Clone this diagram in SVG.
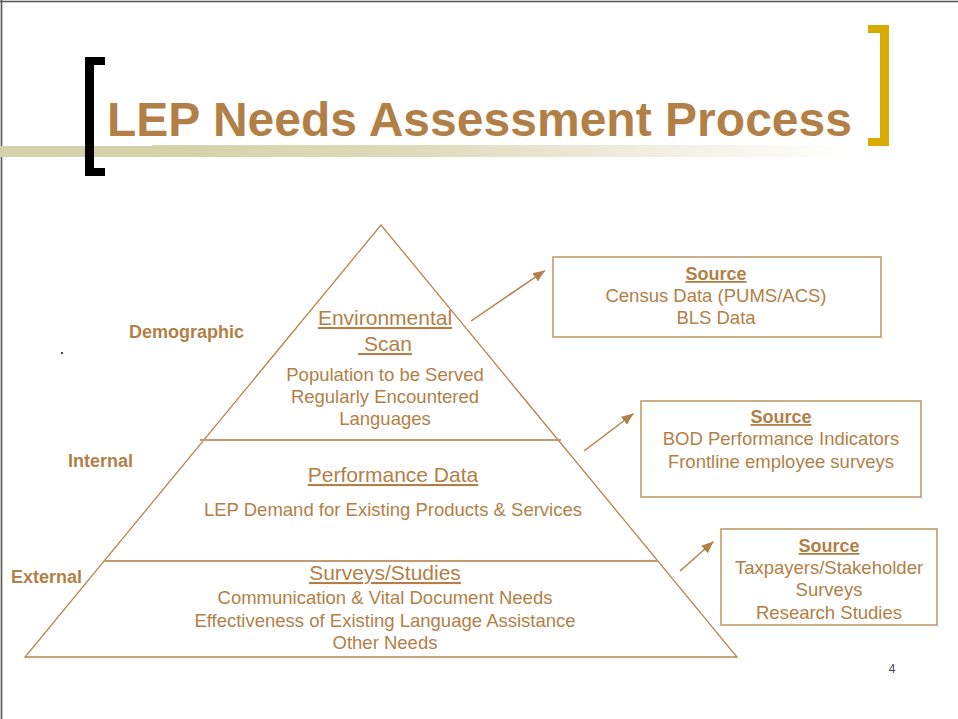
<svg xmlns="http://www.w3.org/2000/svg" width="958" height="719" viewBox="0 0 958 719">
<defs>
<linearGradient id="bar" x1="0" y1="0" x2="1" y2="0">
<stop offset="0" stop-color="#D5D2A9"/>
<stop offset="0.35" stop-color="#DEDBBC"/>
<stop offset="0.92" stop-color="#FFFFFF"/>
</linearGradient>
<marker id="ah" viewBox="0 0 12 10" refX="12" refY="5" markerWidth="12" markerHeight="10" markerUnits="userSpaceOnUse" orient="auto">
<path d="M0,0 L12,5 L0,10 Z" fill="#B27F47"/>
</marker>
<style>
text{font-family:"Liberation Sans",Arial,sans-serif;fill:#B27F47;}
.t{font-size:48px;font-weight:bold;}
.lab{font-size:18px;font-weight:bold;}
.hd{font-size:21px;text-decoration:underline;text-anchor:middle;}
.bd{font-size:18.5px;text-anchor:middle;}
.src{font-size:18px;font-weight:bold;text-decoration:underline;text-anchor:middle;}
.bx{fill:none;stroke:#C49A6C;stroke-width:1.6;}
.pl{fill:none;stroke:#B5854F;stroke-width:1.3;}
.hl{stroke:#C49A6C;stroke-width:1.8;}
.ar{stroke:#B27F47;stroke-width:1.5;fill:none;}
</style>
</defs>
<rect width="958" height="719" fill="#FFFFFF"/>
<line x1="0" y1="1.5" x2="958" y2="1.5" stroke="#555" stroke-width="1.6"/>
<line x1="1.5" y1="0" x2="1.5" y2="719" stroke="#555" stroke-width="1.6"/>

<g id="title">
<rect x="0" y="146" width="153" height="11" fill="#D5D2A9"/>
<rect x="152" y="145" width="760" height="12" fill="url(#bar)"/>
<path d="M85,57 H105 V65 H94 V168 H105 V176 H85 Z" fill="#000"/>
<path d="M868,25 H889 V146 H868 V138 H880 V33 H868 Z" fill="#D9AA00"/>
<text class="t" x="107" y="136" textLength="745">LEP Needs Assessment Process</text>
</g>

<g id="pyramid">
<path class="pl" d="M381,225 L25,657 L737,657 Z"/>
<line class="hl" x1="200" y1="440" x2="561" y2="440"/>
<line class="hl" x1="104" y1="561" x2="658" y2="561"/>
</g>

<g id="tier-environmental">
<text class="hd" x="385" y="325">Environmental</text>
<text class="hd" x="385" y="351" xml:space="preserve"> Scan</text>
<text class="bd" x="385" y="381">Population to be Served</text>
<text class="bd" x="385" y="403">Regularly Encountered</text>
<text class="bd" x="385" y="425">Languages</text>
</g>

<g id="tier-performance">
<text class="hd" x="393" y="482">Performance Data</text>
<text class="bd" x="393" y="516">LEP Demand for Existing Products &amp; Services</text>
</g>

<g id="tier-surveys">
<text class="hd" x="385" y="580">Surveys/Studies</text>
<text class="bd" x="385" y="604">Communication &amp; Vital Document Needs</text>
<text class="bd" x="385" y="626.5">Effectiveness of Existing Language Assistance</text>
<text class="bd" x="385" y="648.5">Other Needs</text>
</g>

<g id="labels">
<text class="lab" x="129" y="338">Demographic</text>
<text class="lab" x="68" y="467">Internal</text>
<text class="lab" x="11" y="583">External</text>
<rect x="61" y="352" width="2" height="2" fill="#444"/>
</g>

<g id="source-1">
<rect class="bx" x="553" y="257" width="328" height="80"/>
<text class="src" x="716" y="280">Source</text>
<text class="bd" x="716" y="302">Census Data (PUMS/ACS)</text>
<text class="bd" x="716" y="324">BLS Data</text>
</g>

<g id="source-2">
<rect class="bx" x="641" y="401" width="280" height="96"/>
<text class="src" x="781" y="423">Source</text>
<text class="bd" x="781" y="445">BOD Performance Indicators</text>
<text class="bd" x="781" y="468">Frontline employee surveys</text>
</g>

<g id="source-3">
<rect class="bx" x="721" y="529" width="216" height="96"/>
<text class="src" x="829" y="552">Source</text>
<text class="bd" x="829" y="574">Taxpayers/Stakeholder</text>
<text class="bd" x="829" y="596">Surveys</text>
<text class="bd" x="829" y="618.5">Research Studies</text>
</g>

<g id="connectors">
<line class="ar" x1="471" y1="321" x2="545" y2="270.5" marker-end="url(#ah)"/>
<line class="ar" x1="584" y1="451" x2="633.5" y2="413.5" marker-end="url(#ah)"/>
<line class="ar" x1="680" y1="571" x2="713.5" y2="541.5" marker-end="url(#ah)"/>
</g>

<text x="892" y="673" font-size="12" text-anchor="middle" style="fill:#444">4</text>
</svg>
